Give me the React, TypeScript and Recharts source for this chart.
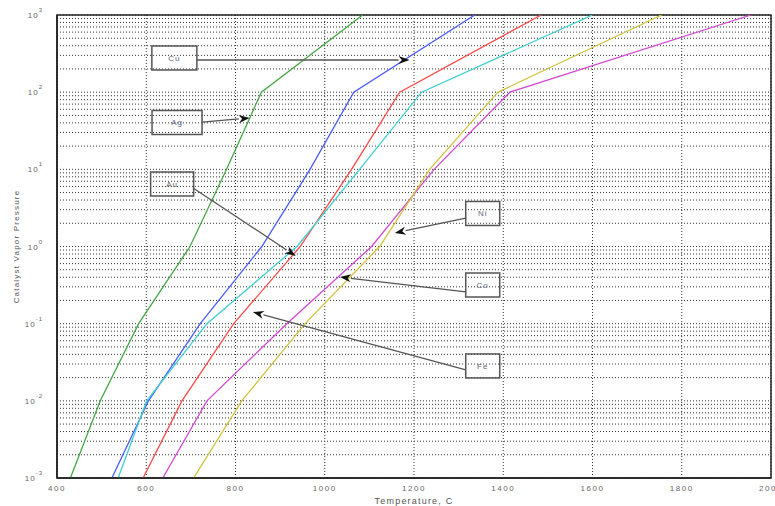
import {
  CartesianGrid,
  Line,
  LineChart,
  ReferenceArea,
  ReferenceDot,
  ReferenceLine,
  XAxis,
  YAxis,
} from "recharts";

// vapour pressure levels (one per decade) and the temperature (C) each catalyst reaches it at
const PRESSURES = [1e-3, 1e-2, 1e-1, 1, 10, 100, 1000];
const T_AG = [430, 497, 583, 698, 780, 858, 1085];
const T_CU = [523, 605, 721, 859, 967, 1065, 1336];
const T_AU = [593, 680, 796, 945, 1060, 1168, 1485];
const T_FE = [537, 601, 736, 938, 1078, 1217, 1600];
const T_CO = [637, 736, 915, 1105, 1245, 1415, 1955];
const T_NI = [706, 814, 956, 1123, 1235, 1388, 1755];

const X_TICKS = [400, 600, 800, 1000, 1200, 1400, 1600, 1800, 2000];
const DECADES = [-3, -2, -1, 0, 1, 2, 3];

// annotation boxes: label, box centre (T, log10 P), arrow start and end (T, log10 P)
const NOTE_TEXT = ["Cu", "Ag", "Au", "Ni", "Co", "Fe"];
const NOTE_T = [663, 669, 658, 1354, 1354, 1354];
const NOTE_LOGP = [2.443, 1.607, 0.81, 0.428, -0.499, -1.548];
const ARROW_FROM_T = [713, 725, 705, 1316, 1316, 1316];
const ARROW_FROM_LOGP = [2.417, 1.613, 0.758, 0.369, -0.589, -1.6];
const ARROW_TO_T = [1190, 832, 935, 1157, 1034, 839];
const ARROW_TO_LOGP = [2.417, 1.665, -0.123, 0.175, -0.395, -0.849];

const BOX_W = [45, 50, 43, 34, 34, 34];
const FONT = "'Liberation Sans', Arial, sans-serif";

const series = [
  { name: "Ag", color: "#45a845", temps: T_AG },
  { name: "Cu", color: "#4a5cff", temps: T_CU },
  { name: "Au", color: "#ff4a4a", temps: T_AU },
  { name: "Fe", color: "#3fcfcf", temps: T_FE },
  { name: "Co", color: "#d24ad2", temps: T_CO },
  { name: "Ni", color: "#cfc23c", temps: T_NI },
].map((s) => ({
  ...s,
  data: s.temps.map((t, i) => ({ t, p: PRESSURES[i] })),
}));

// every minor grid value of the log axis
const yTicks: number[] = [];
DECADES.slice(0, -1).forEach((k) => {
  for (let m = 1; m <= 9; m++) yTicks.push(m * Math.pow(10, k));
});
yTicks.push(1000);

function YTick(props: any) {
  const { x, y, payload } = props;
  const v = payload.value as number;
  const e = Math.round(Math.log10(v));
  if (Math.abs(v - Math.pow(10, e)) / v > 1e-6) return <g />;
  return (
    <text
      x={x - 6}
      y={y + 3}
      textAnchor="end"
      fontSize={8}
      fontFamily={FONT}
      fill="#666"
      letterSpacing={1}
    >
      10
      <tspan dy={-6} fontSize={6}>
        {e}
      </tspan>
    </text>
  );
}

function Arrow(props: any) {
  const { x1, y1, x2, y2 } = props;
  const a = Math.atan2(y2 - y1, x2 - x1);
  const len = 11;
  const half = 4;
  const bx = x2 - len * Math.cos(a);
  const by = y2 - len * Math.sin(a);
  const px = -Math.sin(a) * half;
  const py = Math.cos(a) * half;
  return (
    <g>
      <line x1={x1} y1={y1} x2={bx} y2={by} stroke="#555" strokeWidth={1.3} />
      <polygon
        points={`${x2},${y2} ${bx + px},${by + py} ${bx + len * 0.3 * Math.cos(a)},${by + len * 0.3 * Math.sin(a)} ${bx - px},${by - py}`}
        fill="#111"
      />
    </g>
  );
}

function NoteBox(w: number, text: string) {
  return (props: any) => {
    const { cx, cy } = props;
    return (
      <g>
        <rect
          x={cx - w / 2}
          y={cy - 12}
          width={w}
          height={24}
          fill="none"
          stroke="#555"
          strokeWidth={1.5}
        />
        <text
          x={cx}
          y={cy + 3}
          textAnchor="middle"
          fontSize={8}
          fontFamily={FONT}
          fill="#667"
          letterSpacing={1}
        >
          {text}
        </text>
      </g>
    );
  };
}

export default function App() {
  return (
    <div style={{ position: "absolute", left: 0, top: 0, background: "#fff" }}>
      <LineChart
        width={775}
        height={506}
        margin={{ top: 15, right: 4, bottom: 0, left: 0 }}
      >
        <CartesianGrid stroke="#333" strokeDasharray="1 2" strokeWidth={1} />
        <XAxis
          type="number"
          dataKey="t"
          domain={[400, 2000]}
          ticks={X_TICKS}
          interval={0}
          allowDataOverflow
          height={28}
          tickLine={false}
          axisLine={{ stroke: "#222", strokeWidth: 1.5 }}
          tick={{ fontSize: 8, fill: "#666", fontFamily: FONT, letterSpacing: 1.5 }}
          tickMargin={1}
          label={{
            value: "Temperature, C",
            position: "insideBottom",
            offset: 2,
            fontSize: 9,
            fill: "#555",
            fontFamily: FONT,
            letterSpacing: 1.2,
          }}
        />
        <YAxis
          type="number"
          dataKey="p"
          scale="log"
          domain={[0.001, 1000]}
          ticks={yTicks}
          interval={0}
          allowDataOverflow
          width={57}
          tickLine={false}
          axisLine={{ stroke: "#222", strokeWidth: 1.5 }}
          tick={<YTick />}
          label={{
            value: "Catalyst Vapor Pressure",
            angle: -90,
            position: "insideLeft",
            offset: 16,
            fontSize: 8,
            fill: "#555",
            fontFamily: FONT,
            letterSpacing: 1.2,
            style: { textAnchor: "middle" },
          }}
        />
        <ReferenceArea
          x1={400}
          x2={2000}
          y1={0.001}
          y2={1000}
          fill="none"
          stroke="#222"
          strokeWidth={1.5}
        />
        {series.map((s) => (
          <Line
            key={s.name}
            data={s.data}
            dataKey="p"
            name={s.name}
            stroke={s.color}
            strokeWidth={1.3}
            dot={false}
            isAnimationActive={false}
          />
        ))}
        {NOTE_TEXT.map((txt, i) => (
          <ReferenceLine
            key={`a-${txt}`}
            segment={[
              { x: ARROW_FROM_T[i], y: Math.pow(10, ARROW_FROM_LOGP[i]) },
              { x: ARROW_TO_T[i], y: Math.pow(10, ARROW_TO_LOGP[i]) },
            ]}
            shape={Arrow}
          />
        ))}
        {NOTE_TEXT.map((txt, i) => (
          <ReferenceDot
            key={`b-${txt}`}
            x={NOTE_T[i]}
            y={Math.pow(10, NOTE_LOGP[i])}
            shape={NoteBox(BOX_W[i], txt)}
          />
        ))}
      </LineChart>
    </div>
  );
}
